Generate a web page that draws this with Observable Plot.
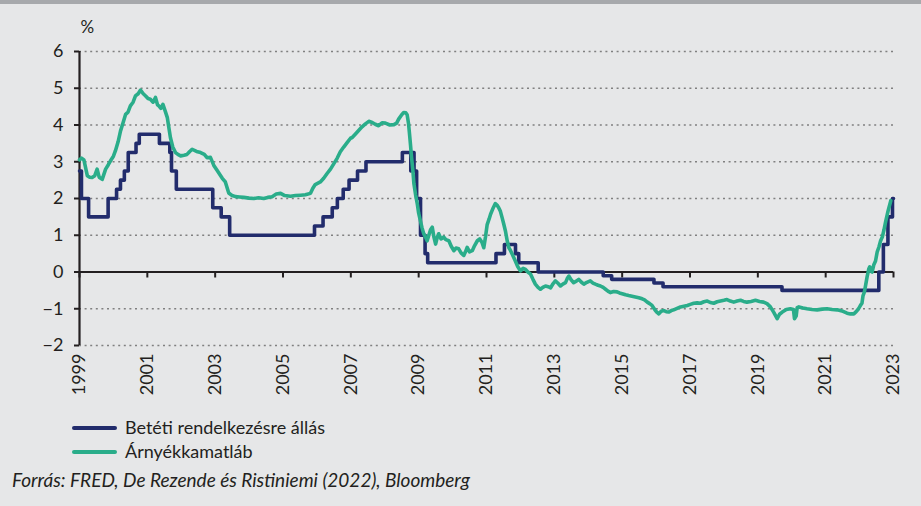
<!DOCTYPE html>
<html>
<head>
<meta charset="utf-8">
<script src="https://cdn.jsdelivr.net/npm/d3@7"></script>
<script src="https://cdn.jsdelivr.net/npm/@observablehq/plot@0.6"></script>
<style>
  html, body { margin: 0; padding: 0; }
  body { width: 921px; height: 506px; background: #e6e7e8; position: relative; overflow: hidden; font-family: Lato, "Open Sans", sans-serif; color: #231f20; }
  #topbar { position: absolute; left: 0; top: 0; width: 921px; height: 4px; background: #a7a9ac; }
  #chart { position: absolute; left: 0; top: 0; }
  .sw { position: absolute; left: 72px; width: 45px; height: 3.5px; border-radius: 2px; }
  .lt { position: absolute; left: 125px; font-size: 18px; line-height: 22px; }
  #caption { position: absolute; left: 12px; top: 469px; font-size: 19px; font-style: italic; line-height: 22px; }
</style>
</head>
<body>
<div id="topbar"></div>
<div id="chart"></div>
<div class="sw" id="sw1" style="top:426px;"></div>
<div class="lt" id="lt1" style="top:416px;"></div>
<div class="sw" id="sw2" style="top:450px;"></div>
<div class="lt" id="lt2" style="top:440px;"></div>
<div id="caption"></div>
<script>
// ---- data ----
const seriesNames = ["Betéti rendelkezésre állás", "Árnyékkamatláb"];
const seriesColors = ["#222c6c", "#2aad8a"];
const caption = "Forrás: FRED, De Rezende és Ristiniemi (2022), Bloomberg";
const yUnit = "%";
const yTicks = [-2, -1, 0, 1, 2, 3, 4, 5, 6];
const xTicks = [1999, 2001, 2003, 2005, 2007, 2009, 2011, 2013, 2015, 2017, 2019, 2021, 2023];

// ECB deposit facility rate: change dates and new levels
const depoDates = ["1999-01-01","1999-01-22","1999-04-09","1999-11-05","2000-02-04","2000-03-17","2000-04-28","2000-06-09","2000-09-01","2000-10-06","2001-05-11","2001-08-31","2001-09-18","2001-11-09","2002-12-06","2003-03-07","2003-06-06","2005-12-06","2006-03-08","2006-06-15","2006-08-09","2006-10-11","2006-12-13","2007-03-14","2007-06-13","2008-07-09","2008-10-08","2008-10-09","2008-11-12","2008-12-10","2009-01-21","2009-03-11","2009-04-08","2011-04-13","2011-07-13","2011-11-09","2011-12-14","2012-07-11","2014-06-11","2014-09-10","2015-12-09","2016-03-16","2019-09-18","2022-07-27","2022-09-14","2022-11-02","2022-12-21","2023-01-01"];
const depoValues = [2.75,2.0,1.5,2.0,2.25,2.5,2.75,3.25,3.5,3.75,3.5,3.25,2.75,2.25,1.75,1.5,1.0,1.25,1.5,1.75,2.0,2.25,2.5,2.75,3.0,3.25,2.75,3.25,2.75,2.0,1.0,0.5,0.25,0.5,0.75,0.5,0.25,0.0,-0.1,-0.2,-0.3,-0.4,-0.5,0.0,0.75,1.5,2.0,2.0];

// Shadow rate, decimal years
const shadowYears = [1999.00,1999.06,1999.13,1999.23,1999.30,1999.37,1999.45,1999.52,1999.58,1999.67,1999.77,1999.85,1999.91,2000.00,2000.06,2000.14,2000.21,2000.28,2000.36,2000.43,2000.50,2000.58,2000.65,2000.73,2000.80,2000.88,2000.95,2001.02,2001.09,2001.17,2001.24,2001.30,2001.34,2001.40,2001.46,2001.52,2001.59,2001.64,2001.68,2001.75,2001.83,2001.90,2001.98,2002.08,2002.17,2002.25,2002.32,2002.45,2002.57,2002.68,2002.76,2002.86,2002.96,2003.06,2003.21,2003.30,2003.40,2003.50,2003.60,2003.72,2003.84,2004.00,2004.14,2004.28,2004.43,2004.55,2004.68,2004.80,2004.93,2005.05,2005.22,2005.37,2005.52,2005.66,2005.81,2005.88,2005.95,2006.10,2006.20,2006.30,2006.40,2006.50,2006.60,2006.69,2006.79,2006.89,2006.99,2007.04,2007.13,2007.23,2007.33,2007.43,2007.53,2007.63,2007.72,2007.82,2007.92,2008.02,2008.15,2008.27,2008.35,2008.41,2008.50,2008.56,2008.62,2008.66,2008.70,2008.73,2008.76,2008.79,2008.83,2008.86,2008.91,2008.96,2009.00,2009.05,2009.10,2009.15,2009.20,2009.25,2009.30,2009.35,2009.40,2009.45,2009.50,2009.55,2009.59,2009.66,2009.74,2009.80,2009.89,2009.96,2010.04,2010.10,2010.18,2010.25,2010.33,2010.38,2010.43,2010.50,2010.58,2010.65,2010.73,2010.80,2010.87,2010.92,2010.97,2011.02,2011.08,2011.12,2011.20,2011.26,2011.31,2011.36,2011.41,2011.46,2011.51,2011.56,2011.61,2011.66,2011.71,2011.76,2011.80,2011.85,2011.92,2012.00,2012.08,2012.15,2012.22,2012.30,2012.37,2012.44,2012.52,2012.59,2012.66,2012.74,2012.82,2012.89,2012.96,2013.03,2013.10,2013.18,2013.25,2013.33,2013.38,2013.43,2013.50,2013.57,2013.65,2013.72,2013.80,2013.87,2013.96,2014.06,2014.14,2014.21,2014.29,2014.36,2014.44,2014.51,2014.58,2014.65,2014.75,2014.85,2014.92,2015.00,2015.10,2015.19,2015.29,2015.39,2015.49,2015.59,2015.66,2015.74,2015.81,2015.88,2015.93,2015.98,2016.03,2016.08,2016.15,2016.23,2016.30,2016.37,2016.45,2016.52,2016.62,2016.72,2016.82,2016.92,2017.01,2017.11,2017.21,2017.31,2017.41,2017.51,2017.60,2017.70,2017.80,2017.90,2018.00,2018.09,2018.19,2018.29,2018.39,2018.49,2018.58,2018.68,2018.80,2018.93,2019.05,2019.17,2019.27,2019.37,2019.47,2019.57,2019.64,2019.72,2019.84,2019.96,2020.05,2020.08,2020.13,2020.16,2020.21,2020.33,2020.45,2020.60,2020.75,2020.90,2021.04,2021.19,2021.34,2021.48,2021.63,2021.73,2021.83,2021.90,2021.97,2022.03,2022.07,2022.10,2022.14,2022.18,2022.22,2022.27,2022.30,2022.34,2022.37,2022.42,2022.47,2022.52,2022.57,2022.62,2022.67,2022.72,2022.77,2022.84,2022.92];
const shadowValues = [3.05,3.10,3.05,2.62,2.58,2.57,2.62,2.80,2.58,2.52,2.80,2.92,3.02,3.15,3.30,3.55,3.84,4.05,4.29,4.35,4.52,4.62,4.79,4.85,4.95,4.85,4.79,4.72,4.70,4.62,4.75,4.55,4.52,4.45,4.56,4.40,4.20,3.90,3.66,3.40,3.25,3.20,3.16,3.18,3.20,3.28,3.34,3.28,3.25,3.20,3.11,3.12,2.90,2.76,2.55,2.45,2.15,2.08,2.05,2.04,2.03,2.01,2.00,2.02,2.00,2.03,2.05,2.12,2.14,2.08,2.06,2.08,2.09,2.10,2.14,2.28,2.38,2.45,2.55,2.68,2.80,2.95,3.10,3.27,3.40,3.52,3.64,3.66,3.75,3.85,3.95,4.03,4.10,4.07,4.02,3.98,4.06,4.05,4.00,4.01,4.05,4.16,4.28,4.34,4.33,4.28,4.05,3.76,3.45,3.12,2.75,2.40,2.10,1.85,1.60,1.40,1.20,1.04,0.95,0.85,1.00,1.15,1.22,0.95,0.76,0.95,1.04,0.90,0.95,0.88,0.85,0.70,0.58,0.65,0.63,0.52,0.45,0.55,0.67,0.55,0.58,0.72,0.85,0.90,0.80,0.66,0.95,1.29,1.45,1.57,1.75,1.86,1.82,1.75,1.65,1.48,1.30,1.11,0.85,0.66,0.58,0.48,0.40,0.30,0.15,0.03,0.10,0.07,0.00,-0.06,-0.20,-0.33,-0.42,-0.47,-0.42,-0.38,-0.40,-0.43,-0.32,-0.24,-0.30,-0.38,-0.33,-0.29,-0.18,-0.11,-0.22,-0.29,-0.25,-0.20,-0.28,-0.33,-0.28,-0.24,-0.30,-0.33,-0.36,-0.38,-0.42,-0.47,-0.52,-0.56,-0.53,-0.54,-0.57,-0.59,-0.62,-0.64,-0.66,-0.68,-0.70,-0.73,-0.76,-0.82,-0.86,-0.91,-0.98,-1.05,-1.10,-1.14,-1.07,-1.05,-1.08,-1.09,-1.05,-1.03,-0.99,-0.95,-0.93,-0.91,-0.88,-0.85,-0.84,-0.85,-0.81,-0.79,-0.83,-0.85,-0.81,-0.79,-0.77,-0.75,-0.79,-0.82,-0.79,-0.77,-0.80,-0.82,-0.80,-0.77,-0.80,-0.82,-0.86,-0.95,-1.10,-1.27,-1.15,-1.09,-1.02,-1.00,-1.02,-1.27,-1.20,-0.97,-0.95,-0.98,-1.00,-1.02,-1.03,-1.01,-1.00,-1.02,-1.03,-1.06,-1.12,-1.14,-1.14,-1.08,-1.00,-0.90,-0.85,-0.65,-0.55,-0.35,-0.14,0.08,0.14,0.02,0.00,0.20,0.30,0.55,0.68,0.85,0.95,1.15,1.38,1.66,1.94];

// ---- build tables ----
function decYear(s) {
  const d = new Date(s + "T00:00:00Z");
  const y = d.getUTCFullYear();
  const start = Date.UTC(y, 0, 1), end = Date.UTC(y + 1, 0, 1);
  return y + (d - start) / (end - start);
}
const depo = depoDates.map((s, i) => ({x: decYear(s), y: depoValues[i]}));
const shadow = shadowYears.map((t, i) => ({x: t, y: shadowValues[i]}));

const ink = "#231f20";
const chart = Plot.plot({
  width: 921,
  height: 400,
  marginTop: 51,
  marginBottom: 55,
  marginLeft: 79,
  marginRight: 28,
  style: {background: "transparent", fontFamily: "Lato, 'Open Sans', sans-serif", fontSize: "18px", color: ink},
  x: {domain: [1999, 2023]},
  y: {domain: [-2, 6]},
  marks: [
    Plot.gridY(yTicks.filter(d => d !== 0), {stroke: "#808080", strokeOpacity: 1, strokeWidth: 1.3, strokeDasharray: "2,3.6"}),
    Plot.axisY({ticks: yTicks, tickSize: 5, tickPadding: 11, label: null, strokeWidth: 2, fontSize: 18, tickFormat: d => d < 0 ? "\u2212" + Math.abs(d) : String(d)}),
    Plot.axisX({ticks: xTicks, tickSize: 0, tickPadding: 8, tickRotate: -90, label: null, fontSize: 18, tickFormat: d => String(d)}),
    Plot.ruleX([1999], {y1: -2, y2: 6, stroke: ink, strokeWidth: 2.2}),
    Plot.ruleY([0], {stroke: ink, strokeWidth: 2.2}),
    Plot.ruleX(xTicks, {y1: 0, y2: 0, insetBottom: -6, stroke: ink, strokeWidth: 2}),
    Plot.line(depo, {x: "x", y: "y", curve: "step-after", stroke: seriesColors[0], strokeWidth: 3.6}),
    Plot.line(shadow, {x: "x", y: "y", stroke: seriesColors[1], strokeWidth: 3.6, strokeLinejoin: "round"}),
    Plot.text([yUnit], {frameAnchor: "top-left", dx: 1, dy: -31, fontSize: 17, fill: ink})
  ]
});
document.getElementById("chart").appendChild(chart);

document.getElementById("sw1").style.background = seriesColors[0];
document.getElementById("sw2").style.background = seriesColors[1];
document.getElementById("lt1").textContent = seriesNames[0];
document.getElementById("lt2").textContent = seriesNames[1];
document.getElementById("caption").textContent = caption;
</script>
</body>
</html>
